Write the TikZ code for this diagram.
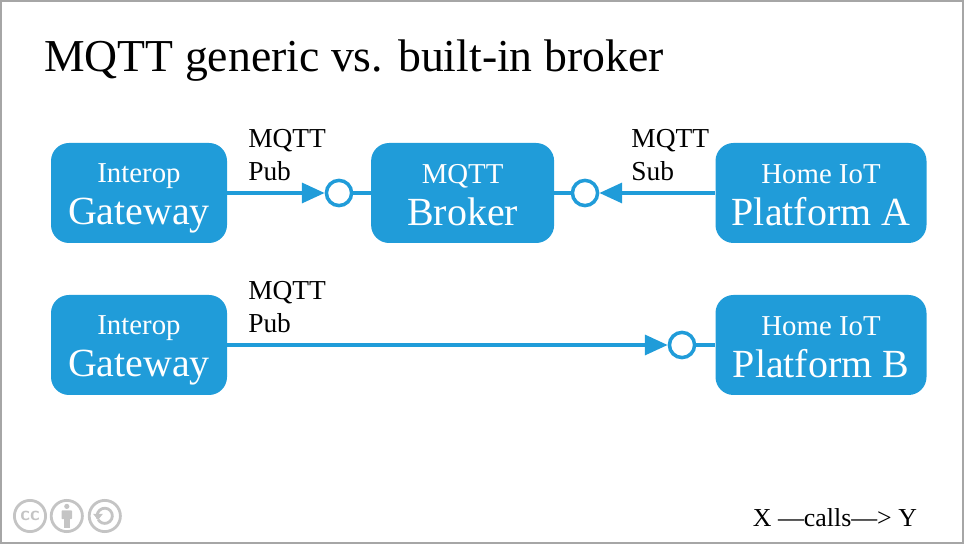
\documentclass[tikz,border=0pt]{standalone}
\usepackage{fontspec}
\setmainfont{Liberation Serif}
\usetikzlibrary{arrows.meta,positioning,calc}
\definecolor{iotblue}{HTML}{209CD9}
\definecolor{framegray}{HTML}{A6A6A6}
\definecolor{ccgray}{HTML}{C4C4C4}
\newcommand{\boxtext}[2]{{\fontsize{20.5pt}{24pt}\selectfont\rule[-5pt]{0pt}{25.8pt}#1}\\{\fontsize{28.4pt}{30pt}\selectfont\rule[-5pt]{0pt}{29pt}#2}}
\begin{document}
\begin{tikzpicture}
[comp/.style={shape=rectangle,fill=iotblue,text=white,rounded corners=.45cm,
  minimum height=2.5cm,align=center,inner sep=0pt},
sock/.style={circle,draw=iotblue,line width=2.5pt,fill=white,minimum size=.63cm,inner sep=0pt},
call/.style={iotblue,line width=2.4pt,-{Triangle[length=.57cm,width=.5cm]},shorten >=0pt},
wire/.style={iotblue,line width=2.4pt},
lbl/.style={align=left,anchor=north west,inner sep=0pt,font=\fontsize{19.5pt}{23.5pt}\selectfont},
ccicon/.style={circle,draw=ccgray,line width=2pt,minimum size=.78cm,inner sep=0pt,text=ccgray}]
\useasboundingbox (0,0) rectangle (24.1,13.6);
\draw[framegray,line width=1.4pt] (.02,.02) rectangle (24.08,13.58);
%%
% title
%%
\node[anchor=west,inner sep=0pt,font=\fontsize{32.5pt}{36pt}\selectfont] (title) at (1.1,12.08) {MQTT generic vs. built-in broker};
%%
% first row
%%
\node[comp,minimum width=4.4cm] (gwa) at (3.475,8.775) {\boxtext{Interop}{Gateway}};
\node[comp,minimum width=4.575cm] (broker) at (11.565,8.775) {\boxtext{MQTT}{Broker}};
\node[comp,minimum width=5.275cm] (pfa) at (20.525,8.775) {\boxtext{Home IoT}{Platform A}};
\node[sock] (socka) at (8.475,8.775) {};
\node[sock] (sockb) at (14.625,8.775) {};
\draw[call] (gwa) -- (socka);
\draw[wire] (socka) -- (broker);
\draw[call] (pfa) -- (sockb);
\draw[wire] (sockb) -- (broker);
\node[lbl] (pub1) at (6.2,10.375) {MQTT\\Pub};
\node[lbl] (sub1) at (15.78,10.375) {MQTT\\Sub};
%%
% second row
%%
\node[comp,minimum width=4.4cm] (gwb) at (3.475,4.975) {\boxtext{Interop}{Gateway}};
\node[comp,minimum width=5.275cm] (pfb) at (20.525,4.975) {\boxtext{Home IoT}{Platform B}};
\node[sock] (sockc) at (17.05,4.975) {};
\draw[call] (gwb) -- (sockc);
\draw[wire] (sockc) -- (pfb);
\node[lbl] (pub2) at (6.2,6.575) {MQTT\\Pub};
%%
% legend
%%
\node[anchor=east,inner sep=0pt,font=\fontsize{18.4pt}{22pt}\selectfont] (legend) at (22.93,.65) {X —calls—> Y};
%%
% licence icons
%%
\node[ccicon,font=\sffamily\bfseries\fontsize{14pt}{14pt}\selectfont] (cc) at (.75,.7) {cc};
\node[ccicon] (by) at (1.67,.7) {};
\node[ccicon] (sa) at (2.62,.7) {};
\fill[ccgray] ($(by)+(0,.24)$) circle (.065);
\fill[ccgray,rounded corners=.5pt] ($(by)+(-.13,.14)$) rectangle ($(by)+(.13,-.08)$);
\fill[ccgray] ($(by)+(-.07,-.08)$) rectangle ($(by)+(.07,-.29)$);
\draw[ccgray,line width=2pt] ($(sa)+(-.18,-.06)$) arc[start angle=200,end angle=-150,radius=.19];
\fill[ccgray] ($(sa)+(-.29,.05)$) -- ($(sa)+(-.05,.05)$) -- ($(sa)+(-.17,-.1)$) -- cycle;
\end{tikzpicture}
\end{document}
